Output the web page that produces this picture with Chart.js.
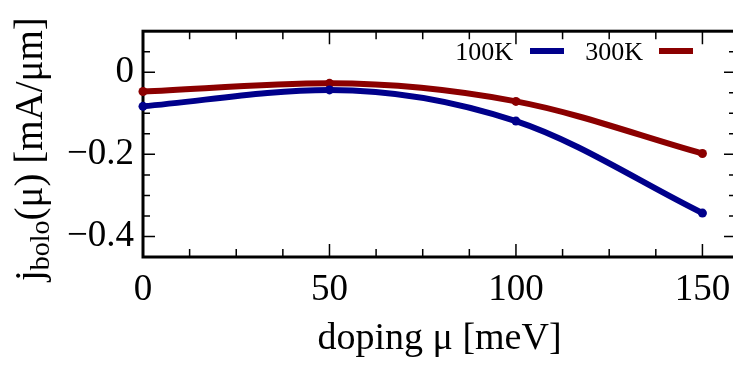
<!DOCTYPE html>
<html lang="en">
<head>
    <meta charset="UTF-8">
    <title>Bolometric current vs doping</title>
    <script src="https://cdn.jsdelivr.net/npm/chart.js"></script>
    <style>
        html, body { margin: 0; padding: 0; background: #fff; overflow: hidden; }
        #wrap { width: 733px; height: 373px; overflow: hidden; }
    </style>
</head>
<body>
    <div id="wrap"><canvas id="myChart" width="745" height="373"></canvas></div>
    <script>
            // values
            const dopingMeV = [0, 50, 100, 150];
            const j100K = [-0.083, -0.043, -0.119, -0.343];
            const j300K = [-0.047, -0.027, -0.071, -0.198];
            const seriesLabels = ['100K', '300K'];
            const seriesColors = ['#00008b', '#8b0000'];

            // tick positions (minor every 12.5 meV / 0.05, labels on majors)
            const xTicks = [0, 12.5, 25, 37.5, 50, 62.5, 75, 87.5, 100, 112.5, 125, 137.5, 150];
            const xMajor = [0, 50, 100, 150];
            const yTicks = [0.1, 0.05, 0, -0.05, -0.1, -0.15, -0.2, -0.25, -0.3, -0.35, -0.4, -0.45];
            const yMajor = [0, -0.2, -0.4];

            const serif = "'Liberation Serif', 'Times New Roman', serif";

            function isMajor(list, v) {
                return list.some(m => Math.abs(m - v) < 1e-6);
            }

            // frame, inward ticks, legend and y title (gnuplot look)
            const framePlugin = {
                id: 'frame',
                beforeDatasetsDraw(chart) {
                    const { ctx, chartArea: a, scales } = chart;
                    ctx.save();
                    ctx.strokeStyle = '#000';
                    ctx.lineWidth = 1.5;
                    scales.x.ticks.forEach(t => {
                        const px = scales.x.getPixelForValue(t.value);
                        const len = isMajor(xMajor, t.value) ? 13 : 8;
                        ctx.beginPath();
                        ctx.moveTo(px, a.bottom); ctx.lineTo(px, a.bottom - len);
                        ctx.moveTo(px, a.top); ctx.lineTo(px, a.top + len);
                        ctx.stroke();
                    });
                    scales.y.ticks.forEach(t => {
                        const py = scales.y.getPixelForValue(t.value);
                        const len = isMajor(yMajor, t.value) ? 12 : 7;
                        ctx.beginPath();
                        ctx.moveTo(a.left, py); ctx.lineTo(a.left + len, py);
                        ctx.moveTo(a.right, py); ctx.lineTo(a.right - len, py);
                        ctx.stroke();
                    });
                    ctx.lineWidth = 3;
                    ctx.strokeRect(a.left, a.top, a.right - a.left, a.bottom - a.top);
                    ctx.restore();
                },
                afterDraw(chart) {
                    const { ctx } = chart;
                    ctx.save();
                    // legend: text first, then line sample
                    ctx.font = '26px ' + serif;
                    ctx.fillStyle = '#000';
                    ctx.textAlign = 'right';
                    ctx.textBaseline = 'alphabetic';
                    const textRight = [513, 643];
                    const lineStart = [530, 659];
                    chart.data.datasets.forEach((ds, i) => {
                        ctx.fillText(ds.label, textRight[i], 60);
                        ctx.strokeStyle = ds.borderColor;
                        ctx.lineWidth = 6;
                        ctx.beginPath();
                        ctx.moveTo(lineStart[i], 51);
                        ctx.lineTo(lineStart[i] + 34, 51);
                        ctx.stroke();
                    });

                    // y title with subscript
                    const a = chart.chartArea;
                    ctx.translate(42, (a.top + a.bottom) / 2 + 5);
                    ctx.rotate(-Math.PI / 2);
                    ctx.textAlign = 'left';
                    const big = '39px ' + serif;
                    const small = '28px ' + serif;
                    const parts = [['j', big, 0], ['bolo', small, 7], ['(μ) [mA/μm]', big, 0]];
                    let w = 0;
                    parts.forEach(p => { ctx.font = p[1]; w += ctx.measureText(p[0]).width; });
                    let x = -w / 2;
                    parts.forEach(p => {
                        ctx.font = p[1];
                        ctx.fillText(p[0], x, p[2]);
                        x += ctx.measureText(p[0]).width;
                    });
                    ctx.restore();
                }
            };

            function makeSet(i, values) {
                return {
                    label: seriesLabels[i],
                    data: dopingMeV.map((d, k) => ({ x: d, y: values[k] })),
                    borderColor: seriesColors[i],
                    backgroundColor: seriesColors[i],
                    borderWidth: 6,
                    pointRadius: 4.5,
                    pointBorderWidth: 0,
                    cubicInterpolationMode: 'monotone',
                    clip: false,
                    fill: false
                };
            }

            const ctx = document.getElementById('myChart').getContext('2d');
            const myChart = new Chart(ctx, {
                type: 'line',
                data: {
                    datasets: [makeSet(0, j100K), makeSet(1, j300K)]
                },
                options: {
                    responsive: false,
                    animation: false,
                    layout: { padding: { left: 0, top: 17, right: 9, bottom: 0 } },
                    scales: {
                        x: {
                            type: 'linear',
                            min: 0,
                            max: 159,
                            grid: { drawOnChartArea: false, drawTicks: false },
                            border: { display: false },
                            afterBuildTicks: s => { s.ticks = xTicks.map(v => ({ value: v })); },
                            ticks: {
                                autoSkip: false,
                                maxRotation: 0,
                                padding: 11,
                                color: '#000',
                                font: { family: serif, size: 37 },
                                callback: v => isMajor(xMajor, v) ? String(v) : ''
                            },
                            title: {
                                display: true,
                                text: 'doping μ [meV]',
                                color: '#000',
                                font: { family: serif, size: 38 },
                                padding: { top: 0, bottom: 11 }
                            },
                            afterFit: s => { s.height = 116; }
                        },
                        y: {
                            min: -0.45,
                            max: 0.1,
                            grid: { drawOnChartArea: false, drawTicks: false },
                            border: { display: false },
                            afterBuildTicks: s => { s.ticks = yTicks.map(v => ({ value: v })); },
                            ticks: {
                                autoSkip: false,
                                padding: 9,
                                color: '#000',
                                font: { family: serif, size: 37 },
                                callback: v => {
                                    if (!isMajor(yMajor, v)) return '';
                                    return Math.abs(v) < 1e-9 ? '0' : '\u2212' + Math.abs(v).toFixed(1);
                                }
                            },
                            afterFit: s => { s.width = 143; }
                        }
                    },
                    plugins: {
                        legend: { display: false },
                        tooltip: { enabled: false }
                    }
                },
                plugins: [framePlugin]
            });
    </script>
</body>
</html>
